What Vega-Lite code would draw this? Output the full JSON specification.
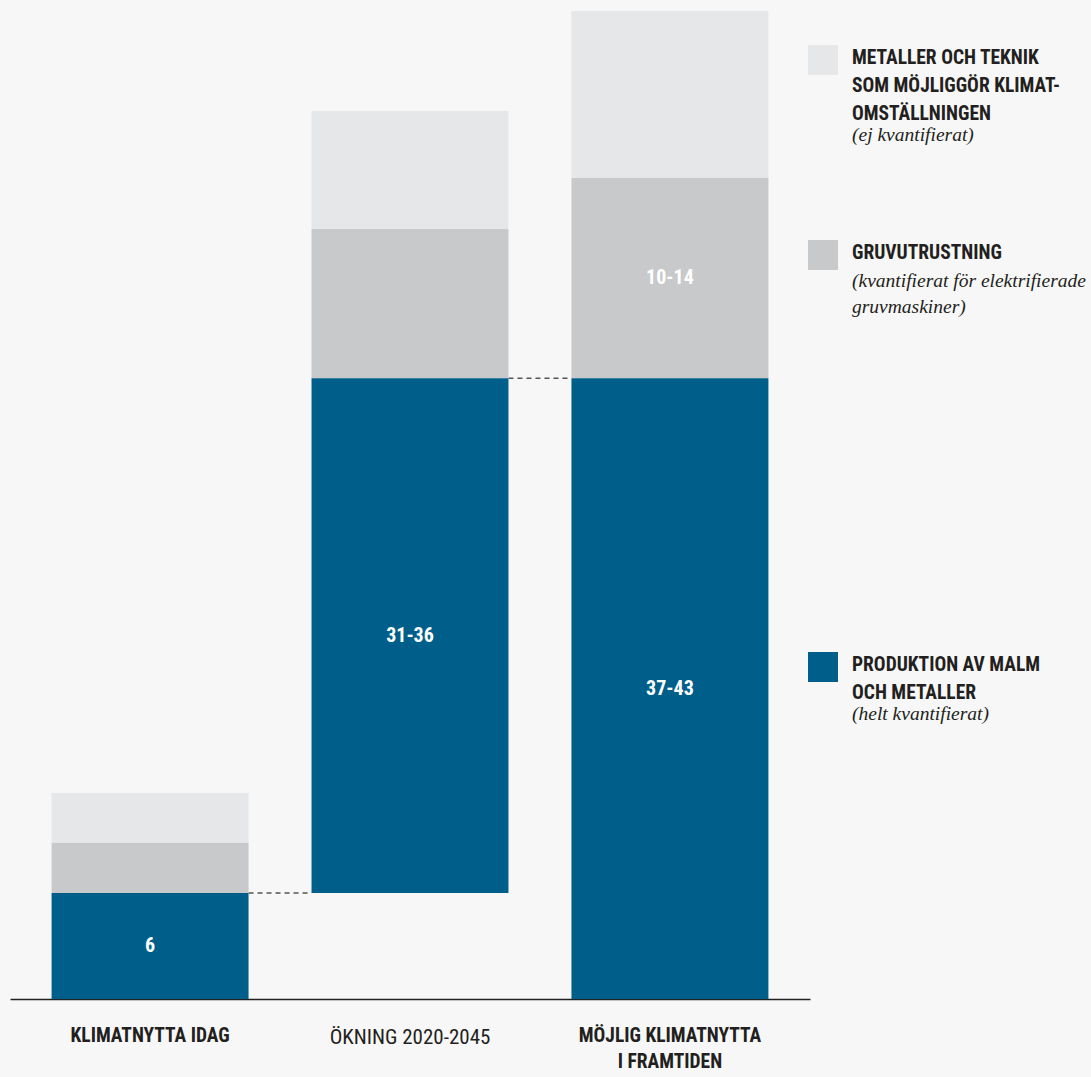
{
  "$schema": "https://vega.github.io/schema/vega-lite/v6.json",
  "width": 800,
  "height": 989,
  "autosize": {"type": "none"},
  "padding": {"left": 10, "top": 10, "right": 281, "bottom": 78},
  "background": "#f7f7f7",
  "config": {"view": {"stroke": null}},
  "datasets": {
    "segments": [
      {"cat": "KLIMATNYTTA IDAG", "seg": "Produktion av malm och metaller", "start": 0, "end": 6, "label": "6"},
      {"cat": "KLIMATNYTTA IDAG", "seg": "Gruvutrustning", "start": 6, "end": 8.83, "label": null},
      {"cat": "KLIMATNYTTA IDAG", "seg": "Metaller och teknik", "start": 8.83, "end": 11.66, "label": null},
      {"cat": "ÖKNING 2020-2045", "seg": "Produktion av malm och metaller", "start": 6, "end": 35.15, "label": "31-36"},
      {"cat": "ÖKNING 2020-2045", "seg": "Gruvutrustning", "start": 35.15, "end": 43.6, "label": null},
      {"cat": "ÖKNING 2020-2045", "seg": "Metaller och teknik", "start": 43.6, "end": 50.28, "label": null},
      {"cat": "MÖJLIG KLIMATNYTTA I FRAMTIDEN", "seg": "Produktion av malm och metaller", "start": 0, "end": 35.15, "label": "37-43"},
      {"cat": "MÖJLIG KLIMATNYTTA I FRAMTIDEN", "seg": "Gruvutrustning", "start": 35.15, "end": 46.49, "label": "10-14"},
      {"cat": "MÖJLIG KLIMATNYTTA I FRAMTIDEN", "seg": "Metaller och teknik", "start": 46.49, "end": 55.95, "label": null}
    ],
    "links": [
      {"from": "KLIMATNYTTA IDAG", "to": "ÖKNING 2020-2045", "level": 6},
      {"from": "ÖKNING 2020-2045", "to": "MÖJLIG KLIMATNYTTA I FRAMTIDEN", "level": 35.15}
    ]
  },
  "layer": [
    {
      "data": {"name": "links"},
      "mark": {"type": "rule", "color": "#555555", "strokeWidth": 1.5, "strokeDash": [5, 4]},
      "encoding": {
        "x": {"field": "from", "type": "nominal", "bandPosition": 1, "title": null,
          "scale": {"domain": ["KLIMATNYTTA IDAG", "ÖKNING 2020-2045", "MÖJLIG KLIMATNYTTA I FRAMTIDEN"], "paddingInner": 0.2423, "paddingOuter": 0.16},
          "axis": {"domainColor": "#222222", "domainWidth": 1.5, "ticks": false, "labelAngle": 0, "labelPadding": 27, "labelFont": "Roboto Condensed, Liberation Sans Narrow, DejaVu Sans Condensed, sans-serif", "labelColor": "#231f20", "labelLineHeight": 26, "labelLimit": 0,
            "labelFontSize": {"condition": {"test": "datum.value == 'ÖKNING 2020-2045'", "value": 21}, "value": 19.5},
            "labelFontWeight": {"condition": {"test": "datum.value == 'ÖKNING 2020-2045'", "value": "normal"}, "value": "bold"},
            "labelExpr": "datum.value == 'MÖJLIG KLIMATNYTTA I FRAMTIDEN' ? ['MÖJLIG KLIMATNYTTA', 'I FRAMTIDEN'] : datum.label"}},
        "x2": {"field": "to", "bandPosition": 0},
        "y": {"field": "level", "type": "quantitative", "scale": {"domain": [0, 56], "nice": false}, "axis": null}
      }
    },
    {
      "data": {"name": "segments"},
      "transform": [{"filter": "datum.seg == 'Metaller och teknik'"}],
      "mark": {"type": "bar"},
      "encoding": {
        "x": {"field": "cat", "type": "nominal", "title": null, "scale": {"domain": ["KLIMATNYTTA IDAG", "ÖKNING 2020-2045", "MÖJLIG KLIMATNYTTA I FRAMTIDEN"]}},
        "y": {"field": "start", "type": "quantitative"},
        "y2": {"field": "end"},
        "color": {"field": "seg", "type": "nominal", "scale": {"range": ["#e6e7e8"]},
          "legend": {"orient": "none", "legendX": 798, "legendY": 35, "symbolType": "square", "symbolSize": 900, "symbolStrokeWidth": 0,
            "labelFont": "Roboto Condensed, Liberation Sans Narrow, DejaVu Sans Condensed, sans-serif", "labelFontSize": 19.5, "labelFontWeight": "bold", "labelColor": "#231f20", "labelLimit": 0, "labelOffset": 14, "labelBaseline": "top",
            "labelExpr": "['METALLER OCH TEKNIK', 'SOM MÖJLIGGÖR KLIMAT-', 'OMSTÄLLNINGEN']",
            "title": "(ej kvantifierat)", "titleOrient": "bottom", "titleAnchor": "start", "titleFont": "Liberation Serif", "titleFontStyle": "italic", "titleFontWeight": "normal", "titleFontSize": 19.5, "titleColor": "#231f20", "titlePadding": 2, "titleLimit": 0, "titleLineHeight": 26,
            "encode": {"labels": {"update": {"dy": {"value": -11}, "lineHeight": {"value": 28}}}, "title": {"update": {"dx": {"value": 44}}}}}}
      }
    },
    {
      "data": {"name": "segments"},
      "transform": [{"filter": "datum.seg == 'Gruvutrustning'"}],
      "mark": {"type": "bar"},
      "encoding": {
        "x": {"field": "cat", "type": "nominal", "title": null, "scale": {"domain": ["KLIMATNYTTA IDAG", "ÖKNING 2020-2045", "MÖJLIG KLIMATNYTTA I FRAMTIDEN"]}},
        "y": {"field": "start", "type": "quantitative"},
        "y2": {"field": "end"},
        "color": {"field": "seg", "type": "nominal", "scale": {"range": ["#c8c9cb"]},
          "legend": {"orient": "none", "legendX": 798, "legendY": 230, "symbolType": "square", "symbolSize": 900, "symbolStrokeWidth": 0,
            "labelFont": "Roboto Condensed, Liberation Sans Narrow, DejaVu Sans Condensed, sans-serif", "labelFontSize": 19.5, "labelFontWeight": "bold", "labelColor": "#231f20", "labelLimit": 0, "labelOffset": 14, "labelBaseline": "top",
            "labelExpr": "'GRUVUTRUSTNING'",
            "title": ["(kvantifierat för elektrifierade", "gruvmaskiner)"], "titleOrient": "bottom", "titleAnchor": "start", "titleFont": "Liberation Serif", "titleFontStyle": "italic", "titleFontWeight": "normal", "titleFontSize": 19.5, "titleColor": "#231f20", "titlePadding": 2, "titleLimit": 0, "titleLineHeight": 26,
            "encode": {"labels": {"update": {"dy": {"value": -11}, "lineHeight": {"value": 28}}}, "title": {"update": {"dx": {"value": 44}}}}}}
      }
    },
    {
      "data": {"name": "segments"},
      "transform": [{"filter": "datum.seg == 'Produktion av malm och metaller'"}],
      "mark": {"type": "bar"},
      "encoding": {
        "x": {"field": "cat", "type": "nominal", "title": null, "scale": {"domain": ["KLIMATNYTTA IDAG", "ÖKNING 2020-2045", "MÖJLIG KLIMATNYTTA I FRAMTIDEN"]}},
        "y": {"field": "start", "type": "quantitative"},
        "y2": {"field": "end"},
        "color": {"field": "seg", "type": "nominal", "scale": {"range": ["#005f8a"]},
          "legend": {"orient": "none", "legendX": 798, "legendY": 642, "symbolType": "square", "symbolSize": 900, "symbolStrokeWidth": 0,
            "labelFont": "Roboto Condensed, Liberation Sans Narrow, DejaVu Sans Condensed, sans-serif", "labelFontSize": 19.5, "labelFontWeight": "bold", "labelColor": "#231f20", "labelLimit": 0, "labelOffset": 14, "labelBaseline": "top",
            "labelExpr": "['PRODUKTION AV MALM', 'OCH METALLER']",
            "title": "(helt kvantifierat)", "titleOrient": "bottom", "titleAnchor": "start", "titleFont": "Liberation Serif", "titleFontStyle": "italic", "titleFontWeight": "normal", "titleFontSize": 19.5, "titleColor": "#231f20", "titlePadding": 2, "titleLimit": 0, "titleLineHeight": 26,
            "encode": {"labels": {"update": {"dy": {"value": -11}, "lineHeight": {"value": 28}}}, "title": {"update": {"dx": {"value": 44}}}}}}
      }
    },
    {
      "data": {"name": "segments"},
      "transform": [{"filter": "datum.label != null"}, {"fold": ["start", "end"], "as": ["edge", "value"]}],
      "mark": {"type": "text", "color": "#ffffff", "fontSize": 20, "fontWeight": "bold", "font": "Roboto Condensed, Liberation Sans Narrow, DejaVu Sans Condensed, sans-serif", "baseline": "middle"},
      "encoding": {
        "x": {"field": "cat", "type": "nominal", "title": null, "scale": {"domain": ["KLIMATNYTTA IDAG", "ÖKNING 2020-2045", "MÖJLIG KLIMATNYTTA I FRAMTIDEN"]}},
        "y": {"aggregate": "mean", "field": "value", "type": "quantitative"},
        "text": {"field": "label", "type": "nominal"}
      }
    }
  ],
  "resolve": {"scale": {"color": "independent"}, "legend": {"color": "independent"}}
}
